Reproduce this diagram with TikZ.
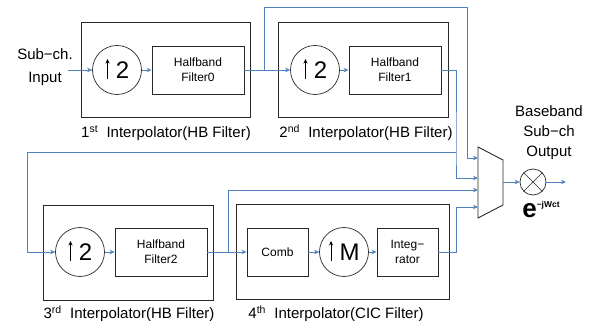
\documentclass[tikz,border=0pt]{standalone}
\usepackage{fontspec}
\setmainfont{Liberation Sans}
\usetikzlibrary{arrows.meta,calc}

\definecolor{wire}{RGB}{79,129,189}
\definecolor{edge}{RGB}{40,40,40}

\tikzset{
  stage/.style={draw=edge, line width=0.9pt, minimum width=#1, minimum height=95pt, inner sep=0pt},
  blk/.style={draw=edge, line width=0.9pt, minimum width=#1, minimum height=48pt, inner sep=0pt,
    align=center, font=\fontsize{12}{15}\selectfont},
  updown/.style={draw=edge, circle, line width=0.7pt, minimum size=49pt, inner sep=0pt,
    font=\fontsize{24}{24}\selectfont},
  rate/.style={draw=black, line width=0.8pt, -{Stealth[length=4.5pt,width=4pt]}},
  stagelabel/.style={inner sep=0pt, font=\fontsize{15}{18}\selectfont},
  sig/.style={draw=wire, line width=0.8pt, -{Stealth[length=5pt,width=4.5pt]}},
}

\begin{document}
\begin{tikzpicture}[x=1pt,y=-1pt]
  \useasboundingbox (0,0) rectangle (590,321);

  %%%%% interpolator stages %%%%%
  \node[stage=169pt] (int1) at (165.5,69.5) {};
  \node[stage=170pt] (int2) at (363,69.5) {};
  \node[stage=170pt] (int3) at (128,252.5) {};
  \node[stage=213pt] (int4) at (342.5,251.5) {};

  \node[stagelabel] (lab1) at (166,133) {1\textsuperscript{st}\ \ Interpolator(HB Filter)};
  \node[stagelabel] (lab2) at (366,133) {2\textsuperscript{nd}\ \ Interpolator(HB Filter)};
  \node[stagelabel] (lab3) at (129,314) {3\textsuperscript{rd}\ \ Interpolator(HB Filter)};
  \node[stagelabel] (lab4) at (336,314) {4\textsuperscript{th}\ \ Interpolator(CIC Filter)};

  %%%%% blocks %%%%%
  \node[updown] (up1) at (117,70) {\hspace{11pt}2};
  \node[blk=92pt] (hb0) at (198,70) {Halfband\\Filter0};
  \node[updown] (up2) at (315,70) {\hspace{11pt}2};
  \node[blk=92pt] (hb1) at (395,70) {Halfband\\Filter1};

  \node[updown] (up3) at (80,252) {\hspace{11pt}2};
  \node[blk=92pt] (hb2) at (161,252) {Halfband\\Filter2};
  \node[blk=61pt] (comb) at (277.5,252) {Comb};
  \node[updown] (upm) at (344,252) {\hspace{11pt}M};
  \node[blk=61pt] (integ) at (407.5,252) {Integ−\\rator};

  % up-sampling arrows
  \draw[rate] ($(up1)+(-9.5,9)$) -- ++(0,-20);
  \draw[rate] ($(up2)+(-9.5,9)$) -- ++(0,-20);
  \draw[rate] ($(up3)+(-9.5,9)$) -- ++(0,-20);
  \draw[rate] ($(upm)+(-13,9)$) -- ++(0,-20);

  %%%%% selector and mixer %%%%%
  \draw[edge, line width=0.9pt] (478,147) -- (503,160) -- (503,205) -- (478,218) -- cycle;
  \coordinate (in1) at (478,158);
  \coordinate (in2) at (478,178);
  \coordinate (in3) at (478,190);
  \coordinate (in4) at (478,207);
  \coordinate (mux) at (503,182);

  \node[draw=edge, circle, line width=0.7pt, minimum size=26pt, inner sep=0pt] (mix) at (533,182) {};
  \draw[edge, line width=0.7pt] (mix.north west) -- (mix.south east);
  \draw[edge, line width=0.7pt] (mix.north east) -- (mix.south west);

  \node[align=center, font=\fontsize{15}{20}\selectfont] (bb) at (549,133) {Baseband\\Sub−ch\\Output};
  \node[inner sep=0pt] (carrier) at (541,210) {\fontsize{26}{26}\selectfont\bfseries e\raisebox{10pt}{\fontsize{8.5}{9}\selectfont −jWct}};

  \node[align=center, font=\fontsize{15}{23}\selectfont] (src) at (45,67) {Sub−ch.\\Input};

  %%%%% wiring %%%%%
  \coordinate (feed) at (68,70);
  \coordinate (tap0) at (264,70);
  \coordinate (top0) at (467,7);
  \coordinate (drop1) at (456,152);
  \coordinate (back) at (27,152);
  \coordinate (tap2) at (228,252);
  \coordinate (rise) at (456,207);
  \coordinate (out) at (566,182);

  \draw[sig] (feed) -- (up1);
  \draw[sig] (up1) -- (hb0);
  \draw[sig] (hb0) -- (up2);
  \draw[sig] (up2) -- (hb1);
  \draw[sig] (tap0) |- (top0) |- (in1);
  \draw[sig] (hb1) -| (drop1) |- (in2);
  \draw[sig] (drop1) -- (back) |- (up3);

  \draw[sig] (up3) -- (hb2);
  \draw[sig] (hb2) -- (comb);
  \draw[sig] (tap2) |- (in3);
  \draw[sig] (comb) -- (upm);
  \draw[sig] (upm) -- (integ);
  \draw[sig] (integ) -| (rise) -- (in4);

  \draw[sig] (mux) -- (mix);
  \draw[sig] (mix) -- (out);
\end{tikzpicture}
\end{document}
